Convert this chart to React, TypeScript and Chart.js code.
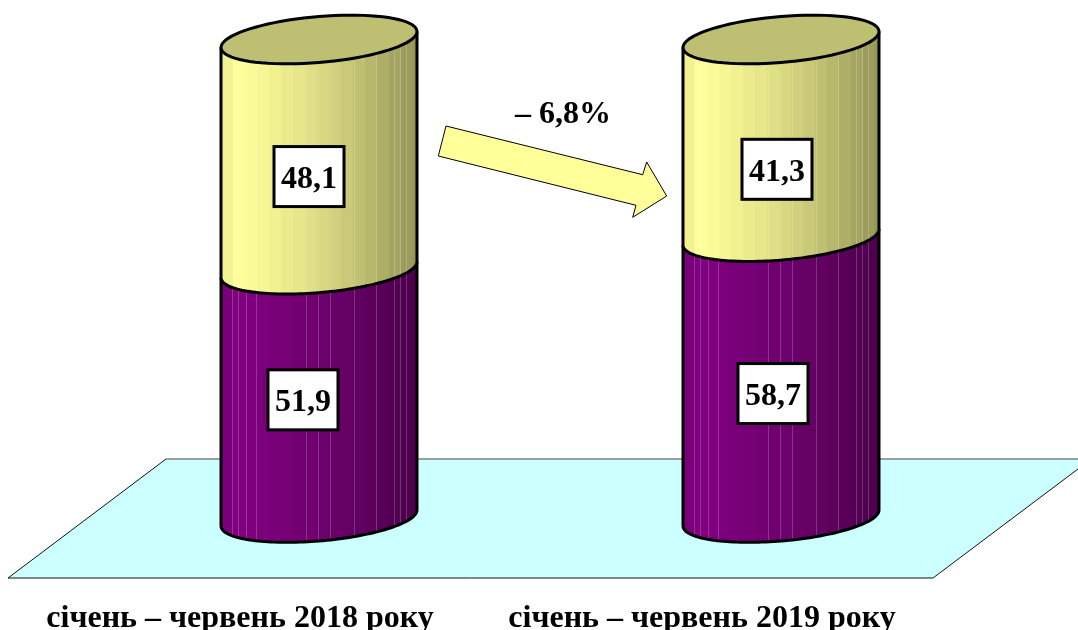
import React, { useEffect, useRef } from "react";
import { Chart, registerables } from "chart.js";

Chart.register(...registerables);

const categories = ["січень – червень 2018 року", "січень – червень 2019 року"];
const purpleValues = [51.9, 58.7];
const yellowValues = [48.1, 41.3];
const changeLabel = "– 6,8%";

const SERIF = '"Liberation Serif", serif';
const CAP_B = 23;
const CAP_K = 8;
const STEP = 12;
const SHADE: [number, number][] = [
  [0, 0.92], [0.09, 1], [0.2, 0.97], [0.4, 0.9], [0.6, 0.81], [0.8, 0.7], [1, 0.58],
];
const SEAMS = [11, 17, 25, 35, 85, 97, 109, 133, 155, 173, 179, 185];
const LABEL_SHIFT = [
  [[-16, 6], [-10, 22]],
  [[-8, 16], [-4, 31]],
];

function shade(u: number) {
  for (let i = 1; i < SHADE.length; i++) {
    if (u <= SHADE[i][0]) {
      const [a, fa] = SHADE[i - 1];
      const [b, fb] = SHADE[i];
      return fa + ((u - a) / (b - a)) * (fb - fa);
    }
  }
  return SHADE[SHADE.length - 1][1];
}

function capPoint(x: number, y: number, r: number, t: number): [number, number] {
  return [x + r * Math.cos(t), y + CAP_B * Math.sin(t) - CAP_K * Math.cos(t)];
}

function traceArc(ctx: CanvasRenderingContext2D, x: number, y: number, r: number, from: number, to: number, start: boolean) {
  const n = 80;
  for (let i = 0; i <= n; i++) {
    const [px, py] = capPoint(x, y, r, from + ((to - from) * i) / n);
    if (i === 0 && start) ctx.moveTo(px, py);
    else ctx.lineTo(px, py);
  }
}

function side(ctx: CanvasRenderingContext2D, x: number, r: number, yBottom: number, yTop: number, rgb: number[]) {
  ctx.save();
  ctx.beginPath();
  traceArc(ctx, x, yBottom, r, 0, Math.PI, true);
  traceArc(ctx, x, yTop, r, Math.PI, 0, false);
  ctx.closePath();
  ctx.clip();
  const left = x - r;
  for (let px = 0; px < 2 * r; px += STEP) {
    const f = shade((px + STEP / 2) / (2 * r));
    ctx.fillStyle = `rgb(${rgb.map((c) => Math.round(c * f)).join(",")})`;
    ctx.fillRect(left + px, 0, STEP + 0.5, 630);
  }
  ctx.fillStyle = "rgba(255,255,255,0.2)";
  SEAMS.forEach((s) => ctx.fillRect(left + s, 0, 1, 630));
  ctx.restore();
  ctx.beginPath();
  traceArc(ctx, x, yBottom, r, 0, Math.PI, true);
  ctx.moveTo(...capPoint(x, yBottom, r, Math.PI));
  ctx.lineTo(...capPoint(x, yTop, r, Math.PI));
  ctx.moveTo(...capPoint(x, yBottom, r, 0));
  ctx.lineTo(...capPoint(x, yTop, r, 0));
  ctx.lineWidth = 3;
  ctx.strokeStyle = "#000";
  ctx.stroke();
}

const scenery = {
  id: "scenery",
  beforeDatasetsDraw(chart: any) {
    const ctx: CanvasRenderingContext2D = chart.ctx;
    ctx.save();
    ctx.beginPath();
    ctx.moveTo(166, 459);
    ctx.lineTo(1078, 459);
    ctx.lineTo(1078, 469);
    ctx.lineTo(933, 578);
    ctx.lineTo(8, 578);
    ctx.closePath();
    ctx.fillStyle = "#CCFFFF";
    ctx.fill();
    ctx.beginPath();
    ctx.moveTo(166, 459);
    ctx.lineTo(1078, 459);
    ctx.lineWidth = 1.5;
    ctx.strokeStyle = "#808080";
    ctx.stroke();
    ctx.beginPath();
    ctx.moveTo(166, 459);
    ctx.lineTo(8, 578);
    ctx.lineTo(933, 578);
    ctx.lineTo(1078, 469);
    ctx.lineWidth = 1;
    ctx.strokeStyle = "#111";
    ctx.stroke();

    ctx.beginPath();
    ([[446, 126], [642.7, 174.7], [646.7, 162], [666.7, 196], [632.7, 217.3], [636, 205.3], [438.3, 156]] as [number, number][]).forEach(
      ([x, y], i) => (i ? ctx.lineTo(x, y) : ctx.moveTo(x, y)),
    );
    ctx.closePath();
    ctx.fillStyle = "#FFFF99";
    ctx.fill();
    ctx.strokeStyle = "#000";
    ctx.stroke();

    ctx.fillStyle = "#000";
    ctx.font = `bold 32px ${SERIF}`;
    ctx.textAlign = "center";
    ctx.textBaseline = "middle";
    ctx.fillText(changeLabel, 563, 115);
    ctx.restore();
  },
};

const cylinders = {
  id: "cylinders",
  afterDatasetsDraw(chart: any) {
    const ctx: CanvasRenderingContext2D = chart.ctx;
    const lower = chart.getDatasetMeta(0).data;
    const upper = chart.getDatasetMeta(1).data;
    ctx.save();
    lower.forEach((bar: any, i: number) => {
      const top = upper[i];
      const r = bar.width / 2;
      side(ctx, bar.x, r, bar.base, bar.y, [128, 0, 128]);
      side(ctx, bar.x, r, top.base, top.y, [255, 255, 153]);
      ctx.beginPath();
      traceArc(ctx, bar.x, top.y, r, 0, Math.PI * 2, true);
      ctx.closePath();
      ctx.fillStyle = "#BFBF73";
      ctx.fill();
      ctx.lineWidth = 3;
      ctx.strokeStyle = "#000";
      ctx.stroke();
    });
    chart.data.datasets.forEach((ds: any, d: number) => {
      chart.getDatasetMeta(d).data.forEach((bar: any, i: number) => {
        const [dx, dy] = LABEL_SHIFT[i][d === 0 ? 0 : 1];
        const cx = bar.x + dx;
        const cy = (bar.y + bar.base) / 2 + dy;
        ctx.fillStyle = "#fff";
        ctx.fillRect(cx - 35, cy - 30, 70, 60);
        ctx.lineWidth = 3;
        ctx.strokeStyle = "#000";
        ctx.strokeRect(cx - 35, cy - 30, 70, 60);
        ctx.fillStyle = "#000";
        ctx.font = `bold 32px ${SERIF}`;
        ctx.textAlign = "center";
        ctx.textBaseline = "middle";
        ctx.fillText(ds.data[i].toFixed(1).replace(".", ","), cx, cy + 3);
      });
    });
    ctx.restore();
  },
};

export default function App() {
  const ref = useRef<HTMLCanvasElement>(null);
  useEffect(() => {
    document.body.style.margin = "0";
    const chart = new Chart(ref.current!, {
      type: "bar",
      data: {
        labels: categories,
        datasets: [
          { label: "A", data: purpleValues, backgroundColor: "rgba(0,0,0,0)", barThickness: 196 },
          { label: "B", data: yellowValues, backgroundColor: "rgba(0,0,0,0)", barThickness: 196 },
        ],
      },
      options: {
        animation: false,
        responsive: false,
        layout: { padding: { left: 88, right: 66, top: 39.5, bottom: 0 } },
        plugins: { legend: { display: false }, tooltip: { enabled: false } },
        scales: {
          x: {
            stacked: true,
            grid: { display: false, drawTicks: false },
            border: { display: false },
            ticks: {
              color: "#000",
              font: { family: SERIF, size: 32, weight: "bold" },
              padding: 82,
              labelOffset: -79,
              maxRotation: 0,
              autoSkip: false,
            },
            afterFit(scale: any) {
              scale.height = 112;
            },
          },
          y: { stacked: true, display: false, min: 0, max: 100 },
        },
      },
      plugins: [scenery, cylinders],
    } as any);
    return () => chart.destroy();
  }, []);
  return <canvas ref={ref} width={1078} height={630} style={{ display: "block" }} />;
}
